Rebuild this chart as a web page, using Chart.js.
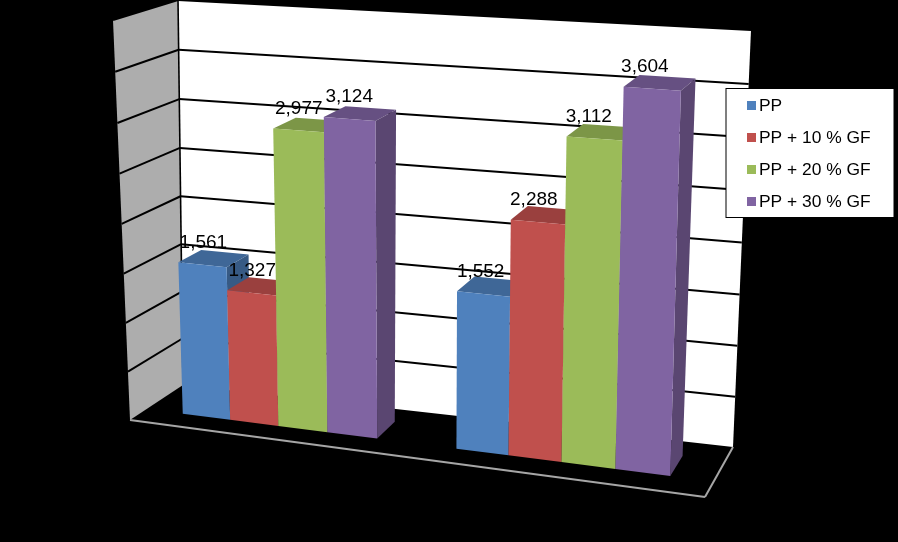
<!DOCTYPE html>
<html>
<head>
<meta charset="utf-8">
<script src="https://cdn.jsdelivr.net/npm/chart.js@4"></script>
<style>
  html, body { margin: 0; padding: 0; background: #000; }
  canvas { display: block; }
</style>
</head>
<body>
<canvas id="grafica" width="898" height="542"></canvas>
<script>
// axis names are black on black in the picture, so they can't be read
const categorias = ['Grupo 1', 'Grupo 2'];
const serieNombres = ['PP', 'PP + 10 % GF', 'PP + 20 % GF', 'PP + 30 % GF'];
const valoresPP = [1561, 1552];
const valoresPP10 = [1327, 2288];
const valoresPP20 = [2977, 3112];
const valoresPP30 = [3124, 3604];
const colores = ['#4F81BD', '#C0504D', '#9BBB59', '#8064A2'];

// screen corners of the 3D box: [bottom-left, bottom-right, top-right, top-left]
const caraFrente = [[130, 420], [705, 497], [717, 58], [113, 20]];
const caraFondo = [[183, 385], [733, 447], [751, 30], [178, 0]];
const profFrente = 0.31;
const profFondo = 0.72;

function mezcla(a, b, t) {
  return [a[0] + (b[0] - a[0]) * t, a[1] + (b[1] - a[1]) * t];
}

function proyectar(u, v, w) {
  const cara = c => mezcla(mezcla(c[0], c[1], u), mezcla(c[3], c[2], u), v);
  return mezcla(cara(caraFrente), cara(caraFondo), w);
}

// perspective: things get narrower towards the left and the bottom
function perspectivaX(u) {
  return u / (1 + 0.1 * (1 - u));
}

function perspectivaY(v) {
  return v / (1 + 0.04 * (1 - v));
}

function poligono(ctx, puntos, relleno) {
  ctx.beginPath();
  puntos.forEach((p, i) => i ? ctx.lineTo(p[0], p[1]) : ctx.moveTo(p[0], p[1]));
  ctx.closePath();
  ctx.fillStyle = relleno;
  ctx.fill();
}

function linea(ctx, a, b, color, ancho) {
  ctx.beginPath();
  ctx.moveTo(a[0], a[1]);
  ctx.lineTo(b[0], b[1]);
  ctx.strokeStyle = color;
  ctx.lineWidth = ancho;
  ctx.stroke();
}

function oscurecer(hex, f) {
  const n = parseInt(hex.slice(1), 16);
  const c = [n >> 16, (n >> 8) & 255, n & 255].map(x => Math.round(x * f));
  return 'rgb(' + c.join(',') + ')';
}

const normalizar = (chart, x, y) => {
  const area = chart.chartArea;
  return [(x - area.left) / area.width, (area.bottom - y) / area.height];
};

const grafico3D = {
  id: 'grafico3D',
  beforeDraw(chart) {
    const ctx = chart.ctx;
    const escalaY = chart.scales.y;

    poligono(ctx, [proyectar(0, 0, 0), proyectar(0, 1, 0), proyectar(0, 1, 1), proyectar(0, 0, 1)], '#ADADAD');
    poligono(ctx, [proyectar(0, 0, 1), proyectar(1, 0, 1), proyectar(1, 1, 1), proyectar(0, 1, 1)], '#FFFFFF');

    escalaY.ticks.forEach(t => {
      if (t.value === 0) return;
      const v = perspectivaY(normalizar(chart, 0, escalaY.getPixelForValue(t.value))[1]);
      linea(ctx, proyectar(0, v, 0), proyectar(0, v, 1), '#000', 2);
      linea(ctx, proyectar(0, v, 1), proyectar(1, v, 1), '#000', 2);
    });
    linea(ctx, proyectar(0, 0, 1), proyectar(0, 1, 1), '#000', 1.6);

    // floor edges
    linea(ctx, proyectar(0, 0, 0), proyectar(1, 0, 0), '#A6A6A6', 2);
    linea(ctx, proyectar(1, 0, 0), proyectar(1, 0, 1), '#A6A6A6', 2);
  },
  beforeDatasetDraw() {
    return false;
  },
  afterDatasetsDraw(chart) {
    const ctx = chart.ctx;
    const etiquetas = [];

    chart.data.datasets.forEach((ds, i) => {
      chart.getDatasetMeta(i).data.forEach((barra, j) => {
        const mitad = barra.width / 2;
        const n0 = normalizar(chart, barra.x - mitad, barra.y);
        const n1 = normalizar(chart, barra.x + mitad, barra.y);
        const u0 = perspectivaX(n0[0]);
        const u1 = perspectivaX(n1[0]);
        const v = perspectivaY(n0[1]);
        const f = profFrente;
        const b = profFondo;

        poligono(ctx, [proyectar(u0, v, f), proyectar(u1, v, f), proyectar(u1, v, b), proyectar(u0, v, b)], oscurecer(ds.backgroundColor, 0.8));
        poligono(ctx, [proyectar(u1, 0, f), proyectar(u1, 0, b), proyectar(u1, v, b), proyectar(u1, v, f)], oscurecer(ds.backgroundColor, 0.7));
        poligono(ctx, [proyectar(u0, 0, f), proyectar(u1, 0, f), proyectar(u1, v, f), proyectar(u0, v, f)], ds.backgroundColor);

        // labels drift left of the bar on the right hand side
        const um = (u0 + u1) / 2;
        const p = proyectar(um, v, f);
        etiquetas.push([ds.data[j].toLocaleString('en-US'), p[0] + 1 - 11 * um * um, p[1] - 22]);
      });
    });

    ctx.fillStyle = '#000';
    ctx.font = '19px "Liberation Sans"';
    ctx.textAlign = 'center';
    ctx.textBaseline = 'middle';
    etiquetas.forEach(e => ctx.fillText(e[0], e[1], e[2]));

    // legend sits over the wall
    ctx.fillStyle = '#FFF';
    ctx.fillRect(726, 88.5, 168, 129);
    ctx.strokeStyle = '#000';
    ctx.lineWidth = 1;
    ctx.strokeRect(726, 88.5, 168, 129);
    ctx.font = '17.4px "Liberation Sans"';
    ctx.textAlign = 'left';
    chart.data.datasets.forEach((ds, i) => {
      const y = 105 + 32 * i;
      ctx.fillStyle = ds.backgroundColor;
      ctx.fillRect(747, y - 4, 9, 9);
      ctx.fillStyle = '#000';
      ctx.fillText(ds.label, 759, y + 1);
    });
  }
};

const ctx = document.getElementById('grafica').getContext('2d');
new Chart(ctx, {
  type: 'bar',
  data: {
    labels: categorias,
    datasets: [
      { label: serieNombres[0], data: valoresPP, backgroundColor: colores[0] },
      { label: serieNombres[1], data: valoresPP10, backgroundColor: colores[1] },
      { label: serieNombres[2], data: valoresPP20, backgroundColor: colores[2] },
      { label: serieNombres[3], data: valoresPP30, backgroundColor: colores[3] }
    ]
  },
  options: {
    responsive: false,
    animation: false,
    categoryPercentage: 0.72,
    barPercentage: 1,
    plugins: {
      legend: { display: false },
      tooltip: { enabled: false }
    },
    scales: {
      x: { display: false },
      y: { display: false, min: 0, max: 4000, ticks: { stepSize: 500 } }
    }
  },
  plugins: [grafico3D]
});
</script>
</body>
</html>
